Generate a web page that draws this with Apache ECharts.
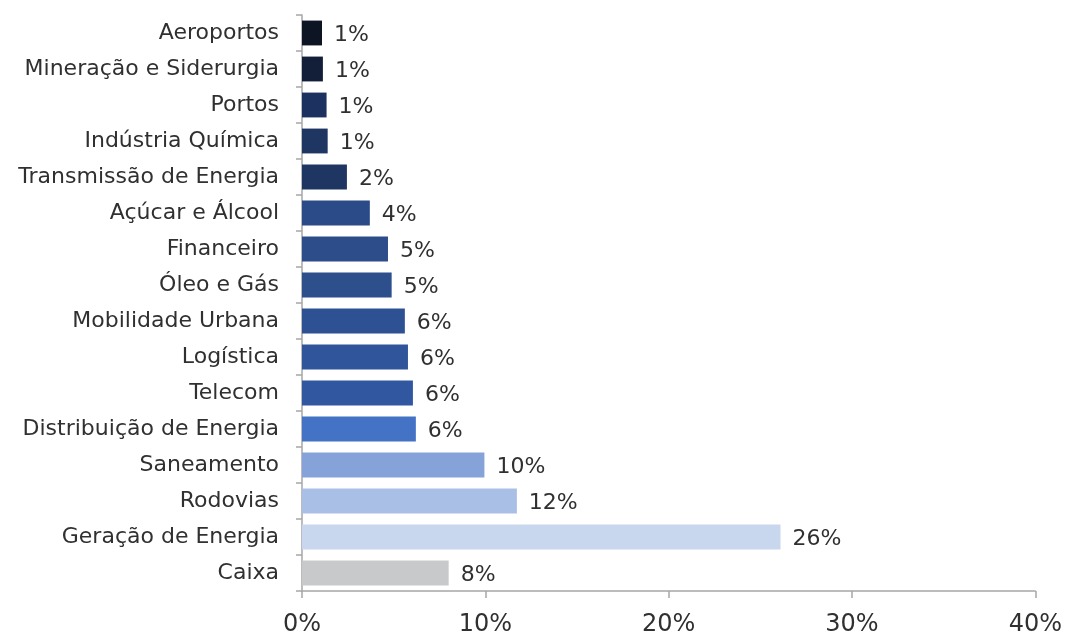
<!DOCTYPE html>
<html>
<head>
<meta charset="utf-8">
<script src="https://cdn.jsdelivr.net/npm/echarts@6/dist/echarts.min.js"></script>
<style>
  html, body { margin: 0; padding: 0; background: #ffffff; }
  #chart { width: 1065px; height: 637px; }
</style>
</head>
<body>
<div id="chart"></div>
<script>
// Sector allocation (% of portfolio), listed top to bottom
const categories = [
  'Aeroportos', 'Mineração e Siderurgia', 'Portos', 'Indústria Química',
  'Transmissão de Energia', 'Açúcar e Álcool', 'Financeiro', 'Óleo e Gás',
  'Mobilidade Urbana', 'Logística', 'Telecom', 'Distribuição de Energia',
  'Saneamento', 'Rodovias', 'Geração de Energia', 'Caixa'
];
const shares = [
  1.09, 1.14, 1.34, 1.40,
  2.45, 3.70, 4.69, 4.89,
  5.61, 5.78, 6.05, 6.21,
  9.95, 11.72, 26.10, 8.00
];
const barColors = [
  '#0d1424', '#131e38', '#1c3160', '#1f3562',
  '#1f3662', '#2b4b88', '#2c4d8a', '#2d4f8c',
  '#2e5193', '#30559a', '#3057a0', '#4472c4',
  '#85a3d8', '#a9bfe5', '#c8d7ee', '#c8c9cb'
];
const xTicks = [0, 10, 20, 30, 40];

const FONT = 'DejaVu Sans';
const axisGray = '#a6a6a6';
const textColor = '#303030';

const chart = echarts.init(document.getElementById('chart'), null, { renderer: 'canvas' });
chart.setOption({
  animation: false,
  backgroundColor: '#ffffff',
  grid: { left: 302, right: 29, top: 15, bottom: 41, containLabel: false },
  xAxis: {
    type: 'value',
    min: xTicks[0],
    max: xTicks[xTicks.length - 1],
    interval: xTicks[1] - xTicks[0],
    axisLine: { show: true, lineStyle: { color: axisGray, width: 1.5 } },
    axisTick: { show: true, length: 7, lineStyle: { color: axisGray, width: 1.5 } },
    splitLine: { show: false },
    axisLabel: {
      formatter: v => v + '%',
      fontFamily: FONT, fontSize: 24, color: textColor, margin: 22
    }
  },
  yAxis: {
    type: 'category',
    inverse: true,
    data: categories,
    axisLine: { show: true, lineStyle: { color: axisGray, width: 1.5 } },
    axisTick: { show: true, length: 6, lineStyle: { color: axisGray, width: 1.5 } },
    axisLabel: {
      fontFamily: FONT, fontSize: 22, color: textColor, margin: 23,
      padding: [8, 0, 0, 0]
    }
  },
  series: [{
    type: 'bar',
    data: shares.map((v, i) => ({ value: v, itemStyle: { color: barColors[i] } })),
    barCategoryGap: '31%',
    label: {
      show: true,
      position: 'right',
      distance: 12,
      offset: [0, 2],
      formatter: p => Math.round(p.value) + '%',
      fontFamily: FONT, fontSize: 22, color: textColor
    }
  }]
});
</script>
</body>
</html>
